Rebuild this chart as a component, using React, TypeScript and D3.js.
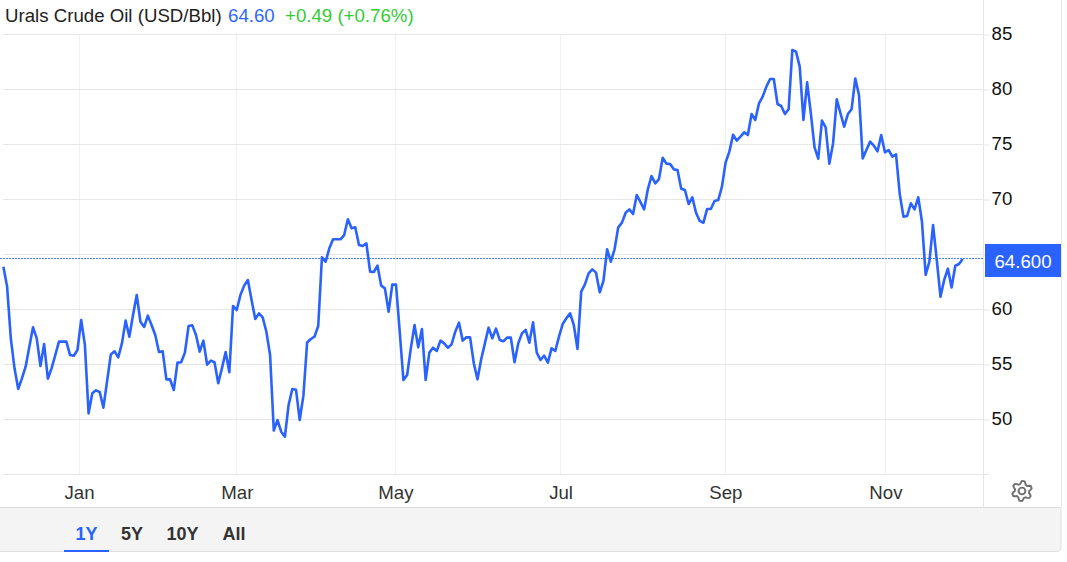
import React, { useEffect, useRef } from "react";
import * as d3 from "d3";

// daily Urals close, left to right
const closes: number[] = [
  63.89, 62.08, 57.38, 54.65, 52.77, 53.74, 54.8, 56.62, 58.38, 57.38,
  54.86, 56.86, 53.71, 54.65, 55.86, 57.08, 57.08, 57.08, 55.86, 55.8,
  56.32, 59.05, 56.77, 50.56, 52.38, 52.65, 52.5, 51.08, 53.5, 55.92,
  56.2, 55.65, 56.92, 58.99, 57.53, 59.5, 61.32, 58.89, 58.41, 59.44,
  58.59, 57.68, 56.14, 56.2, 53.65, 53.65, 52.68, 55.17, 55.2, 56.08,
  58.5, 58.56, 57.68, 56.17, 57.17, 54.98, 55.35, 55.2, 53.29, 54.65,
  56.14, 54.29, 60.32, 59.95, 61.32, 62.17, 62.68, 60.86, 59.14, 59.65,
  59.29, 57.98, 55.86, 49.0, 49.95, 48.89, 48.44, 51.32, 52.77, 52.71,
  49.95, 52.17, 57.0, 57.32, 57.53, 58.5, 64.74, 64.35, 65.56, 66.38,
  66.38, 66.38, 66.77, 68.2, 67.38, 67.47, 65.86, 65.77, 66.02, 63.44,
  63.41, 63.98, 62.17, 61.92, 59.8, 62.26, 62.26, 57.99, 53.59, 54.05,
  56.47, 58.59, 56.56, 58.23, 53.59, 56.08, 56.53, 56.23, 57.17, 56.92,
  56.53, 56.83, 57.98, 58.8, 57.17, 57.47, 57.47, 55.11, 53.65, 55.47,
  56.92, 58.35, 57.38, 58.26, 57.23, 57.11, 57.44, 57.44, 55.2, 56.92,
  57.83, 58.14, 56.98, 58.83, 56.08, 55.41, 55.8, 55.17, 56.47, 56.23,
  57.53, 58.68, 59.2, 59.65, 58.59, 56.41, 61.62, 62.29, 63.29, 63.65,
  63.35, 61.56, 62.59, 65.47, 64.35, 65.47, 67.47, 67.9, 68.8, 69.1,
  68.68, 70.41, 69.77, 69.11, 70.95, 72.14, 71.47, 71.86, 73.8, 73.26,
  73.23, 72.74, 72.68, 70.98, 70.86, 69.59, 70.2, 68.8, 68.05, 67.89,
  69.14, 69.14, 69.86, 69.95, 71.17, 73.38, 74.35, 75.89, 75.35, 75.71,
  76.11, 75.86, 77.77, 77.23, 78.74, 79.35, 80.26, 80.95, 80.95, 78.68,
  78.5, 77.77, 78.2, 83.59, 83.44, 82.08, 77.23, 80.65, 77.83, 74.74,
  73.71, 77.17, 76.56, 73.26, 75.1, 79.11, 77.83, 76.62, 77.77, 78.2,
  81.0, 79.5, 73.74, 74.5, 75.26, 74.89, 74.38, 75.86, 74.29, 74.5,
  73.89, 74.1, 70.5, 68.44, 68.5, 69.65, 69.11, 70.2, 67.98, 63.14,
  64.35, 67.68, 64.5, 61.17, 62.68, 63.71, 62.0, 63.98, 64.14, 64.6,
];

const yTicks = [50, 55, 60, 65, 70, 75, 80, 85];
const months = ["Jan", "Mar", "May", "Jul", "Sep", "Nov"];
// position of the first of each month, counted in trading days
const monthDays = [20.3, 62.9, 105.7, 150.3, 194.8, 238];
const ranges = ["1Y", "5Y", "10Y", "All"];

const lastPrice = 64.6;
const FONT = "'Liberation Sans', Arial, sans-serif";
const BLUE = "#2962ff";
const FONT_SIZE = 18.67;

const App = () => {
  const svgRef = useRef<SVGSVGElement>(null);

  useEffect(() => {
    const svg = d3.select(svgRef.current);
    svg.selectAll("*").remove();

    const left = 3;
    const axisX = 983.5;
    const bottom = 474.5;

    // ---------------------- scale
    const x = d3.scaleLinear().domain([0, closes.length - 1]).range([3.4, 962.7]);
    const y = d3.scaleLinear().domain([45, 85]).range([bottom, 34.5]);

    // ---------------------- grid
    svg.append("g")
      .selectAll("line")
      .data(monthDays)
      .join("line")
      .attr("x1", d => Math.round(x(d)) + 0.5)
      .attr("x2", d => Math.round(x(d)) + 0.5)
      .attr("y1", 34)
      .attr("y2", bottom)
      .attr("stroke", "#eef2f7");

    svg.append("g")
      .selectAll("line")
      .data(yTicks)
      .join("line")
      .attr("x1", left)
      .attr("x2", axisX - 1)
      .attr("y1", d => y(d))
      .attr("y2", d => y(d))
      .attr("stroke", "#e6e6e6");

    // ---------------------- y axis
    const yAxis = svg.append("g")
      .attr("transform", `translate(${axisX}, 0)`)
      .call(d3.axisRight(y).tickValues(yTicks).tickSize(6).tickPadding(2).tickFormat(d3.format("d")));
    yAxis.select("path").remove();
    yAxis.selectAll("line").attr("stroke", "#e6e6e6");
    yAxis.selectAll("text")
      .attr("fill", "#111")
      .attr("font-family", FONT)
      .attr("font-size", FONT_SIZE)
      .attr("dy", "4.5px");
    // the price tag sits where 65 would be
    yAxis.selectAll("text").filter(d => d === 65).remove();

    // axis frame
    svg.append("line")
      .attr("x1", axisX).attr("x2", axisX).attr("y1", 0).attr("y2", 507)
      .attr("stroke", "#e6e6e6");
    svg.append("line")
      .attr("x1", left).attr("x2", axisX + 6).attr("y1", bottom).attr("y2", bottom)
      .attr("stroke", "#e6e6e6");

    // ---------------------- x axis labels
    svg.append("g")
      .selectAll("text")
      .data(months)
      .join("text")
      .attr("x", (_, i) => x(monthDays[i]) + 1)
      .attr("y", 499)
      .attr("text-anchor", "middle")
      .attr("font-family", FONT)
      .attr("font-size", FONT_SIZE)
      .attr("fill", "#333")
      .text(d => d);

    // ---------------------- last price line
    svg.append("line")
      .attr("x1", 0)
      .attr("x2", axisX)
      .attr("y1", Math.floor(y(lastPrice)) + 0.5)
      .attr("y2", Math.floor(y(lastPrice)) + 0.5)
      .attr("stroke", "#4d80ff")
      .attr("stroke-dasharray", "2 1");

    // ---------------------- draw line
    const line = d3.line<number>().x((_, i) => x(i)).y(d => y(d));
    svg.append("path")
      .datum(closes)
      .attr("d", line)
      .attr("fill", "none")
      .attr("stroke", BLUE)
      .attr("stroke-width", 2.6)
      .attr("stroke-linejoin", "round");

    // ---------------------- price tag
    svg.append("rect")
      .attr("x", 985).attr("y", 244).attr("width", 76).attr("height", 33)
      .attr("fill", BLUE);
    svg.append("text")
      .attr("x", 1023).attr("y", 267.5)
      .attr("text-anchor", "middle")
      .attr("font-family", FONT)
      .attr("font-size", FONT_SIZE)
      .attr("fill", "#fff")
      .text(d3.format(".3f")(lastPrice));

    // ---------------------- title
    const title = svg.append("text")
      .attr("x", 5).attr("y", 21.5)
      .attr("font-family", FONT)
      .attr("font-size", FONT_SIZE);
    title.append("tspan").attr("fill", "#222").text("Urals Crude Oil (USD/Bbl)");
    title.append("tspan").attr("x", 228).attr("fill", "#2f66ff").text(lastPrice.toFixed(2));
    title.append("tspan").attr("x", 285).attr("fill", "#33cc33").text("+0.49 (+0.76%)");

    // ---------------------- gear icon
    const gear = svg.append("g").attr("transform", "translate(1022, 491)");
    const teeth = d3.range(48).map(i => {
      const phase = i % 8;
      const r = phase < 3 ? 10 : phase === 3 || phase === 7 ? 8.6 : 7.2;
      return [(i / 48) * 2 * Math.PI, r] as [number, number];
    });
    gear.append("path")
      .attr("d", d3.lineRadial().curve(d3.curveLinearClosed)(teeth))
      .attr("fill", "none")
      .attr("stroke", "#6f6f6f")
      .attr("stroke-width", 1.9);
    gear.append("circle").attr("r", 3.4)
      .attr("fill", "none")
      .attr("stroke", "#6f6f6f")
      .attr("stroke-width", 1.9);

    // ---------------------- range tabs
    const tabX = [86.5, 132, 182.5, 234];
    svg.append("path")
      .attr("d", "M0 507.5 H1061 V547 Q1061 551.5 1056 551.5 H0")
      .attr("fill", "#f4f4f4")
      .attr("stroke", "#dedede");
    svg.append("line")
      .attr("x1", 1061.5).attr("x2", 1061.5).attr("y1", 0).attr("y2", 507)
      .attr("stroke", "#e6e6e6");
    svg.append("g")
      .selectAll("text")
      .data(ranges)
      .join("text")
      .attr("x", (_, i) => tabX[i])
      .attr("y", 540)
      .attr("text-anchor", "middle")
      .attr("font-family", FONT)
      .attr("font-size", 18)
      .attr("font-weight", "bold")
      .attr("fill", (_, i) => (i === 0 ? BLUE : "#333"))
      .text(d => d);
    svg.append("rect")
      .attr("x", 64).attr("y", 550).attr("width", 45).attr("height", 2)
      .attr("fill", BLUE);
  }, []);

  return (
    <div style={{ position: "absolute", left: 0, top: 0 }}>
      <svg ref={svgRef} width={1067} height={562} style={{ display: "block" }} />
    </div>
  );
};

export default App;
